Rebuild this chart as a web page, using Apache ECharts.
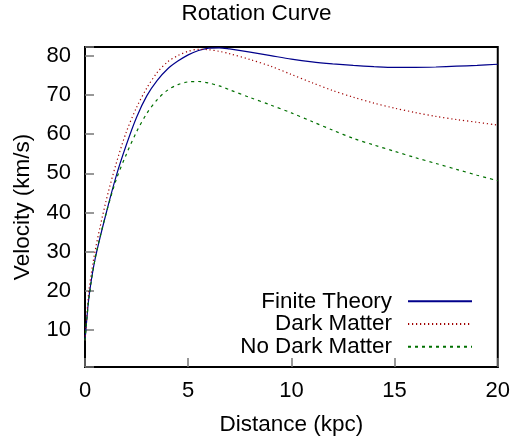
<!doctype html>
<html lang="en">

<head>
	<title>Rotation Curve</title>
	<meta charset="utf-8">
	<script src="https://cdn.jsdelivr.net/npm/echarts@6/dist/echarts.min.js"></script>
	<style>
		body {
			margin: 0;
		}

		#canvas1 {
			width: 513px;
			height: 443px;
		}
	</style>
</head>

<body>
	<div id="canvas1"></div>
	<script>
		// distance in kpc
		var distance = [0, 0.05, 0.2, 0.5, 1, 1.5, 2, 2.5, 3, 3.5, 4, 4.5, 5, 5.5, 6, 6.5, 7, 8, 9, 10, 11, 12, 13, 14, 15, 16, 17, 18, 19, 20];
		// velocities in km/s
		var velocity_finite = [7.4, 10.5, 18.8, 28.4, 39.3, 49.1, 57.2, 64.3, 69.8, 73.7, 76.6, 78.6, 80.2, 81.3, 81.9, 82, 81.7, 80.9, 80, 79.1, 78.4, 77.9, 77.5, 77.2, 77, 77, 77.1, 77.3, 77.5, 77.8];
		var velocity_dark = [7.4, 11, 20.5, 30.5, 42.5, 52.3, 60.5, 66.8, 71.8, 75.7, 78.4, 80, 81.1, 81.6, 81.5, 81.1, 80.5, 79, 77.3, 75.2, 73.1, 71.1, 69.4, 67.9, 66.6, 65.5, 64.5, 63.7, 63, 62.3];
		var velocity_nodark = [7.4, 10.5, 18.5, 28.5, 39.3, 48.2, 54.8, 60.6, 65.3, 68.8, 71.2, 72.6, 73.3, 73.4, 73, 72.3, 71.3, 69.3, 67.4, 65.4, 63.2, 61, 58.9, 57.2, 55.6, 54, 52.5, 51, 49.5, 48.1];
		var series_names = ['Finite Theory', 'Dark Matter', 'No Dark Matter'];

		function pairs(xs, ys) {
			const out = [];
			for (let i = 0; i < xs.length; i++) {
				out.push([xs[i], ys[i]]);
			}
			return out;
		}

		var font = 'Liberation Sans, Arial, Helvetica, sans-serif';

		option = {
			animation: false,
			title: {
				text: 'Rotation Curve',
				left: 'center',
				top: 2,
				padding: 0,
				textStyle: { fontFamily: font, fontSize: 22.5, fontWeight: 'normal', color: '#000' },
			},
			grid: {
				left: 85,
				right: 12,
				top: 47,
				bottom: 76,
				show: true,
				borderColor: '#000',
				borderWidth: 2,
			},
			legend: {
				orient: 'vertical',
				align: 'right',
				right: 40,
				top: 290,
				padding: 0,
				itemGap: 0,
				itemWidth: 64,
				itemHeight: 10,
				itemStyle: { color: 'transparent', borderWidth: 0 },
				textStyle: { fontFamily: font, fontSize: 22.4, color: '#000', lineHeight: 22.7, padding: [0, 11, 0, 0] },
				data: series_names,
			},
			xAxis: {
				type: 'value',
				min: 0,
				max: 20,
				interval: 5,
				name: 'Distance (kpc)',
				nameLocation: 'middle',
				nameGap: 46,
				nameTextStyle: { fontFamily: font, fontSize: 22.5, color: '#000' },
				axisLine: { show: true, lineStyle: { color: '#000', width: 2 } },
				axisTick: { show: true, inside: true, length: 9, lineStyle: { color: '#777', width: 1.5 } },
				axisLabel: { fontFamily: font, fontSize: 22, color: '#000', margin: 13 },
				splitLine: { show: false },
			},
			yAxis: {
				type: 'value',
				min: 0.6,
				max: 82.2,
				splitNumber: 8,
				name: 'Velocity (km/s)',
				nameLocation: 'middle',
				nameGap: 51,
				nameTextStyle: { fontFamily: font, fontSize: 22.5, color: '#000' },
				axisLine: { show: true, lineStyle: { color: '#000', width: 2 } },
				axisTick: { show: true, inside: true, length: 9, lineStyle: { color: '#777', width: 1.5 } },
				axisLabel: {
					fontFamily: font, fontSize: 22, color: '#000', margin: 14,
					formatter: function (v) { return (Math.abs(v % 10) < 1e-6) ? v : ''; },
				},
				splitLine: { show: false },
			},
			series: [{
				name: series_names[0],
				type: 'line',
				data: pairs(distance, velocity_finite),
				symbol: 'none',
				smooth: 0.3,
				lineStyle: { color: '#00008b', width: 1.2, type: 'solid' },
				itemStyle: { color: '#00008b' },
			}, {
				name: series_names[1],
				type: 'line',
				data: pairs(distance, velocity_dark),
				symbol: 'none',
				smooth: 0.3,
				lineStyle: { color: '#a00000', width: 1.2, type: [1.2, 2.8] },
				itemStyle: { color: '#a00000' },
			}, {
				name: series_names[2],
				type: 'line',
				data: pairs(distance, velocity_nodark),
				symbol: 'none',
				smooth: 0.3,
				lineStyle: { color: '#007000', width: 1.2, type: [3, 4] },
				itemStyle: { color: '#007000' },
			}],
		};

		let echartsObj = echarts.init(document.getElementById('canvas1'));
		echartsObj.setOption(option);
	</script>
</body>

</html>
